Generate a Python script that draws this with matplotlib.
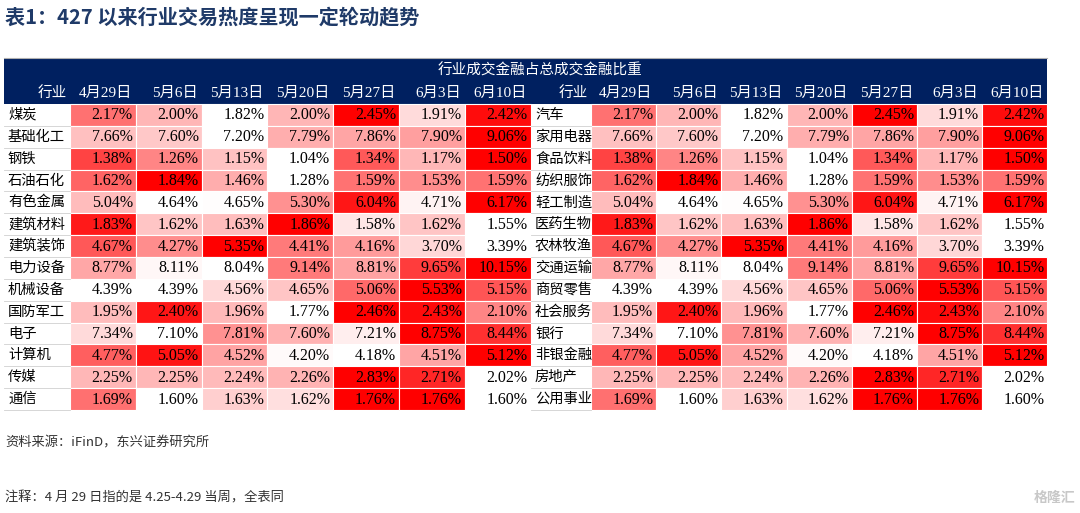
import matplotlib
matplotlib.use("Agg")
from matplotlib import pyplot as plt
from matplotlib.patches import Rectangle
import numpy as np

plt.rcParams['font.family'] = ['Noto Sans CJK SC', 'DejaVu Sans']

dates = ["4月29日", "5月6日", "5月13日", "5月20日", "5月27日", "6月3日", "6月10日"]

names_left = ["煤炭", "基础化工", "钢铁", "石油石化", "有色金属", "建筑材料", "建筑装饰",
              "电力设备", "机械设备", "国防军工", "电子", "计算机", "传媒", "通信"]
names_right = ["汽车", "家用电器", "食品饮料", "纺织服饰", "轻工制造", "医药生物", "农林牧渔",
               "交通运输", "商贸零售", "社会服务", "银行", "非银金融", "房地产", "公用事业"]

share_left = [
    [2.17, 2.00, 1.82, 2.00, 2.45, 1.91, 2.42],
    [7.66, 7.60, 7.20, 7.79, 7.86, 7.90, 9.06],
    [1.38, 1.26, 1.15, 1.04, 1.34, 1.17, 1.50],
    [1.62, 1.84, 1.46, 1.28, 1.59, 1.53, 1.59],
    [5.04, 4.64, 4.65, 5.30, 6.04, 4.71, 6.17],
    [1.83, 1.62, 1.63, 1.86, 1.58, 1.62, 1.55],
    [4.67, 4.27, 5.35, 4.41, 4.16, 3.70, 3.39],
    [8.77, 8.11, 8.04, 9.14, 8.81, 9.65, 10.15],
    [4.39, 4.39, 4.56, 4.65, 5.06, 5.53, 5.15],
    [1.95, 2.40, 1.96, 1.77, 2.46, 2.43, 2.10],
    [7.34, 7.10, 7.81, 7.60, 7.21, 8.75, 8.44],
    [4.77, 5.05, 4.52, 4.20, 4.18, 4.51, 5.12],
    [2.25, 2.25, 2.24, 2.26, 2.83, 2.71, 2.02],
    [1.69, 1.60, 1.63, 1.62, 1.76, 1.76, 1.60],
]
share_right = [
    [2.17, 2.00, 1.82, 2.00, 2.45, 1.91, 2.42],
    [7.66, 7.60, 7.20, 7.79, 7.86, 7.90, 9.06],
    [1.38, 1.26, 1.15, 1.04, 1.34, 1.17, 1.50],
    [1.62, 1.84, 1.46, 1.28, 1.59, 1.53, 1.59],
    [5.04, 4.64, 4.65, 5.30, 6.04, 4.71, 6.17],
    [1.83, 1.62, 1.63, 1.86, 1.58, 1.62, 1.55],
    [4.67, 4.27, 5.35, 4.41, 4.16, 3.70, 3.39],
    [8.77, 8.11, 8.04, 9.14, 8.81, 9.65, 10.15],
    [4.39, 4.39, 4.56, 4.65, 5.06, 5.53, 5.15],
    [1.95, 2.40, 1.96, 1.77, 2.46, 2.43, 2.10],
    [7.34, 7.10, 7.81, 7.60, 7.21, 8.75, 8.44],
    [4.77, 5.05, 4.52, 4.20, 4.18, 4.51, 5.12],
    [2.25, 2.25, 2.24, 2.26, 2.83, 2.71, 2.02],
    [1.69, 1.60, 1.63, 1.62, 1.76, 1.76, 1.60],
]

title = "表1：427 以来行业交易热度呈现一定轮动趋势"
header_top = "行业成交金融占总成交金融比重"
source = "资料来源：iFinD，东兴证券研究所"
note = "注释：4 月 29 日指的是 4.25-4.29 当周，全表同"

# ---- layout (pixel grid) ----
W, H = 1080, 513
navy = "#002060"
num_font = ['Liberation Serif', 'Noto Sans CJK SC']

fig = plt.figure(figsize=(W / 100, H / 100), dpi=100)
ax = fig.add_axes([0, 0, 1, 1])
ax.set_xlim(0, W)
ax.set_ylim(H, 0)
ax.axis('off')

head_y0, head_y1 = 58, 104
row_h = (410 - head_y1) / len(names_left)
halves = [
    # label col x0, label col x1, value col width
    (4, 70, 65.8, names_left, share_left),
    (531, 591, 65.2, names_right, share_right),
]

ax.text(5, 17, title, fontsize=14.5, fontweight='bold', color="#1f3a68", va='center', ha='left')

# header band
ax.add_patch(Rectangle((4, head_y0), 1047 - 4, head_y1 - head_y0, color=navy, lw=0))
ax.plot([4, 1047], [head_y0 - 0.5, head_y0 - 0.5], color="#b0b0b0", lw=0.8)
ax.text(540, 71, header_top, fontsize=10.5, color='white', ha='center', va='center')

for lx0, lx1, cw, names, vals in halves:
    ax.text(lx1 - 3, 93, "行业", fontsize=10.5, color='white', ha='right', va='center')
    for j, d in enumerate(dates):
        ax.text(lx1 + (j + 1) * cw - 4, 93, d, fontsize=11, color='white',
                ha='right', va='center', family=num_font)
    arr = np.array(vals)
    for i, name in enumerate(names):
        y = head_y1 + i * row_h
        ax.text(lx0 + 4, y + row_h / 2, name, fontsize=10.3, color='black',
                ha='left', va='center')
        ax.plot([lx0, lx1], [y + row_h, y + row_h], color="#d0d0d0", lw=0.6)
        lo, hi = arr[i].min(), arr[i].max()
        for j, v in enumerate(vals[i]):
            t = (v - lo) / (hi - lo) if hi > lo else 0
            fc = (1.0, 1.0 - t, 1.0 - t)
            x = lx1 + j * cw
            ax.add_patch(Rectangle((x, y), cw, row_h, facecolor=fc,
                                   edgecolor='white', lw=0.8))
            ax.text(x + cw - 3, y + row_h / 2 + 0.5, f"{v:.2f}%", fontsize=11.5,
                    color='black', ha='right', va='center', family=num_font)

ax.text(5, 443, source, fontsize=9.5, color="#333333", ha='left', va='center', style='italic')
ax.text(5, 498, note, fontsize=9.5, color="#333333", ha='left', va='center', style='italic')
ax.text(1075, 498, "格隆汇", fontsize=10, color="#c8c8c8", ha='right', va='center',
        fontweight='bold')

fig.savefig("out.png", dpi=100)
